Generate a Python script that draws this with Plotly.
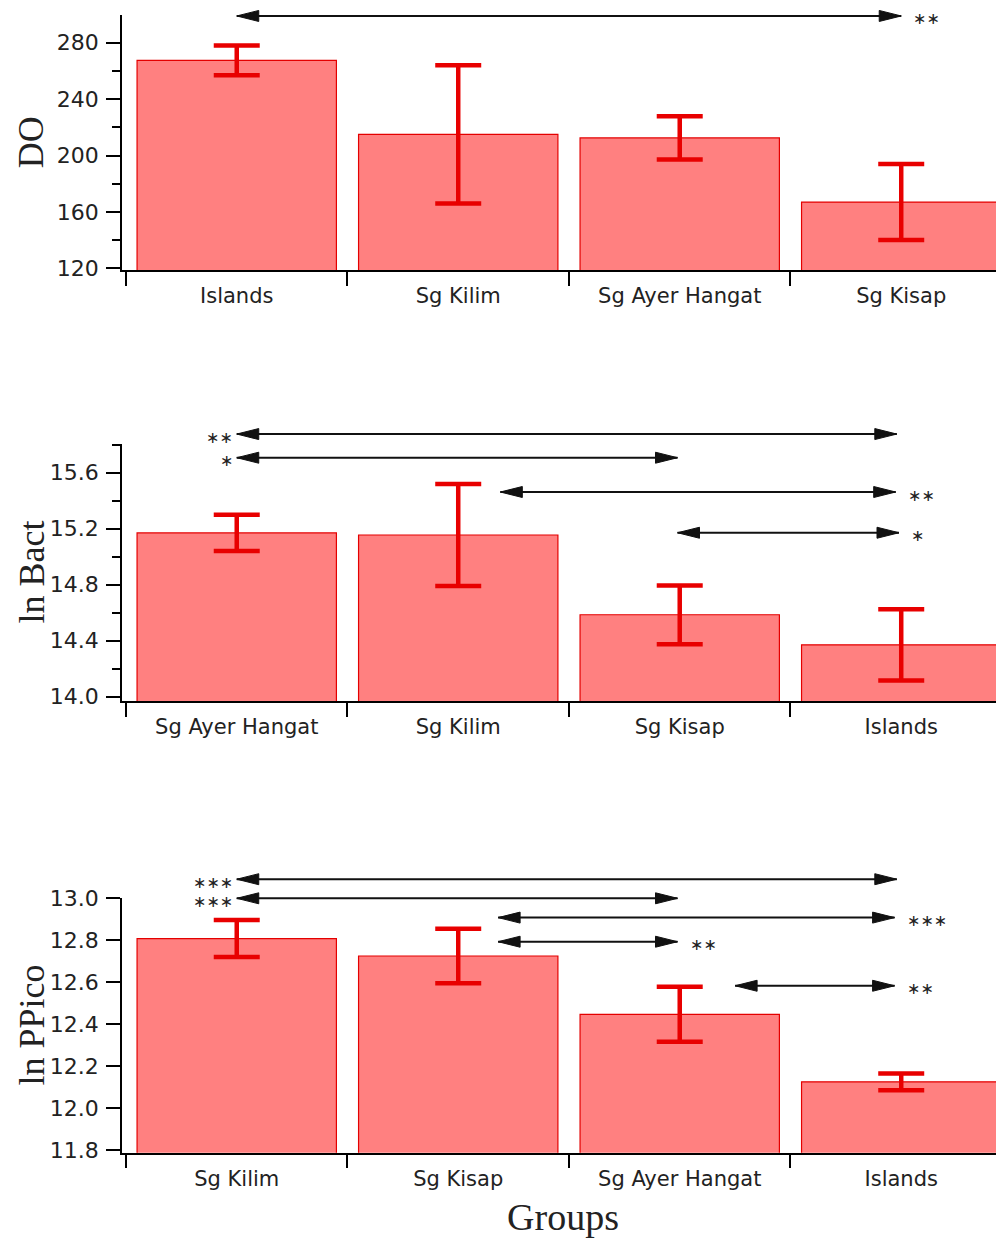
import plotly.graph_objects as go

# ---------------- data ----------------
do_groups = ["Islands", "Sg Kilim", "Sg Ayer Hangat", "Sg Kisap"]
do_mean = [267.5, 215.0, 212.5, 167.0]
do_err = [10.6, 49.0, 15.3, 27.0]

bact_groups = ["Sg Ayer Hangat", "Sg Kilim", "Sg Kisap", "Islands"]
bact_mean = [15.17, 15.155, 14.585, 14.37]
bact_err = [0.13, 0.365, 0.21, 0.255]

ppico_groups = ["Sg Kilim", "Sg Kisap", "Sg Ayer Hangat", "Islands"]
ppico_mean = [12.808, 12.725, 12.447, 12.125]
ppico_err = [0.088, 0.13, 0.131, 0.04]

# significance comparisons (category index start/end, level, stars, label side)
do_cmp_start = [0.0]
do_cmp_end = [3.0]
do_cmp_level = [299.0]
do_cmp_stars = ["**"]
do_cmp_side = ["right"]

bact_cmp_start = [0.0, 0.0, 1.19, 1.99]
bact_cmp_end = [2.98, 1.99, 2.975, 2.99]
bact_cmp_level = [15.876, 15.707, 15.462, 15.171]
bact_cmp_stars = ["**", "*", "**", "*"]
bact_cmp_side = ["left", "left", "right", "right"]

ppico_cmp_start = [0.0, 0.0, 1.18, 1.18, 2.25]
ppico_cmp_end = [2.98, 1.99, 2.97, 1.99, 2.97]
ppico_cmp_level = [13.091, 13.0, 12.908, 12.793, 12.583]
ppico_cmp_stars = ["***", "***", "***", "**", "**"]
ppico_cmp_side = ["left", "left", "right", "right", "right"]

y_titles = ["DO", "ln Bact", "ln PPico"]

# ---------------- styling ----------------
OFF = 8                      # page body margin
W, H = 1004 - OFF, 1239 - OFF
LEFT = 122 - OFF
BAR_FILL = "rgb(255,128,128)"
BAR_LINE = "rgb(228,0,0)"
ERR_COL = "rgb(232,0,0)"
SANS = "DejaVu Sans"
SERIF = "Liberation Serif"
XRANGE = [-0.518, 3.464]


def dom(top_px, bottom_px):
    return [1 - (bottom_px - OFF) / H, 1 - (top_px - OFF) / H]


panels = [
    dict(groups=do_groups, mean=do_mean, err=do_err, yrange=[118.8, 299.9],
         dtick=40, tick0=120, minor=20, fmt="d", dom=dom(14.7, 270),
         cs=do_cmp_start, ce=do_cmp_end, cl=do_cmp_level, st=do_cmp_stars, sd=do_cmp_side),
    dict(groups=bact_groups, mean=bact_mean, err=bact_err, yrange=[13.969, 15.805],
         dtick=0.4, tick0=14.0, minor=0.2, fmt=".1f", dom=dom(444, 701),
         cs=bact_cmp_start, ce=bact_cmp_end, cl=bact_cmp_level, st=bact_cmp_stars, sd=bact_cmp_side),
    dict(groups=ppico_groups, mean=ppico_mean, err=ppico_err, yrange=[11.787, 13.0],
         dtick=0.2, tick0=11.8, minor=None, fmt=".1f", dom=dom(898.3, 1152.7),
         cs=ppico_cmp_start, ce=ppico_cmp_end, cl=ppico_cmp_level, st=ppico_cmp_stars, sd=ppico_cmp_side),
]

fig = go.Figure()
layout = dict(width=W, height=H, margin=dict(l=LEFT, r=0, t=0, b=0, autoexpand=False),
              plot_bgcolor="white", paper_bgcolor="white", showlegend=False)

shapes = []
annotations = []

for i, p in enumerate(panels, start=1):
    sfx = "" if i == 1 else str(i)
    xid, yid = "x" + sfx, "y" + sfx
    fig.add_trace(go.Bar(
        x=p["groups"], y=p["mean"], width=0.9, xaxis=xid, yaxis=yid,
        marker=dict(color=BAR_FILL, line=dict(color=BAR_LINE, width=1.2)),
        error_y=dict(type="data", array=p["err"], color=ERR_COL, thickness=4.5, width=23),
    ))
    layout["xaxis" + sfx] = dict(
        domain=[0, 1], anchor=yid, type="category", categoryorder="array",
        categoryarray=p["groups"], range=XRANGE, showline=True, linecolor="black",
        linewidth=1.5, ticks="outside", tickson="boundaries", ticklen=14,
        tickwidth=1.5, tickcolor="black", showgrid=False, zeroline=False,
        automargin=False, ticklabelstandoff=6,
        tickfont=dict(family=SANS, size=21, color="#222"))
    ya = dict(
        domain=p["dom"], anchor=xid, range=p["yrange"], showline=True,
        linecolor="black", linewidth=1.5, ticks="outside", ticklen=14, tickwidth=1.5,
        tickcolor="black", tick0=p["tick0"], dtick=p["dtick"], tickformat=p["fmt"],
        showgrid=False, zeroline=False, automargin=False, ticklabelstandoff=3,
        tickfont=dict(family=SANS, size=22, color="#222"))
    if p["minor"]:
        ya["minor"] = dict(dtick=p["minor"], tick0=p["tick0"], ticks="outside",
                           ticklen=8, tickwidth=1.5, tickcolor="black", showgrid=False)
    layout["yaxis" + sfx] = ya

    # y-axis title
    annotations.append(dict(
        text=y_titles[i - 1], xref="paper", yref="paper", x=(31 - 122) / (W - LEFT),
        y=(p["dom"][0] + p["dom"][1]) / 2, xanchor="center", yanchor="middle",
        textangle=-90, showarrow=False, font=dict(family=SERIF, size=36, color="#222")))

    # significance arrows
    r0, r1 = p["yrange"]
    ydref = yid + " domain"
    for xs, xe, lvl, stars, side in zip(p["cs"], p["ce"], p["cl"], p["st"], p["sd"]):
        yf = (lvl - r0) / (r1 - r0)
        shapes.append(dict(type="line", xref=xid, yref=ydref, x0=xs, x1=xe, y0=yf, y1=yf,
                           line=dict(color="#111", width=2)))
        for xt, d in ((xe, 1), (xs, -1)):
            shapes.append(dict(type="path", xref=xid, yref=ydref, xsizemode="pixel",
                               ysizemode="pixel", xanchor=xt, yanchor=yf,
                               path=f"M0,0 L{-22 * d},5.5 L{-22 * d},-5.5 Z",
                               fillcolor="#111", line=dict(color="#111", width=1)))
        txt = stars.replace("*", "\u2217")
        font = dict(family=SANS, size=16, color="#222")
        if side == "right":
            annotations.append(dict(text=txt, xref=xid, yref=ydref, x=xe, y=yf,
                                    xanchor="left", yanchor="middle", xshift=10, yshift=-3,
                                    showarrow=False, font=font))
        else:
            annotations.append(dict(text=txt, xref=xid, yref=ydref, x=xs, y=yf,
                                    xanchor="right", yanchor="middle", xshift=-2, yshift=-3,
                                    showarrow=False, font=font))

layout["xaxis3"]["title"] = dict(text="Groups", font=dict(family=SERIF, size=38, color="#222"),
                                 standoff=14)
layout["shapes"] = shapes
layout["annotations"] = annotations
fig.update_layout(**layout)
fig.write_html("out.html")
